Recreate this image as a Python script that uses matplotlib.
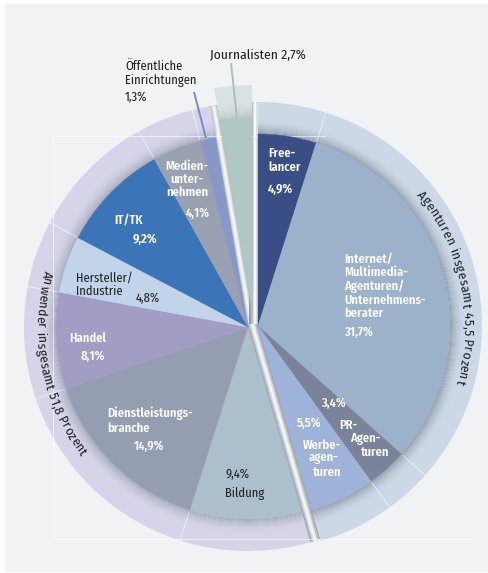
import numpy as np
import matplotlib
matplotlib.use("Agg")
import matplotlib.pyplot as plt
from matplotlib.patches import Wedge, Rectangle
from matplotlib.font_manager import FontProperties, fontManager
from matplotlib.colors import to_rgb

# ---------------- data ----------------
categories = ["Freelancer", "Internet/Multimedia-Agenturen/Unternehmensberater",
              "PR-Agenturen", "Werbeagenturen", "Bildung", "Dienstleistungsbranche",
              "Handel", "Hersteller/Industrie", "IT/TK", "Medienunternehmen",
              "Öffentliche Einrichtungen", "Journalisten"]
shares = [4.9, 31.7, 3.4, 5.5, 9.4, 14.9, 8.1, 4.8, 9.2, 4.1, 1.3, 2.7]
share_labels = ["4,9%", "31,7%", "3,4%", "5,5%", "9,4%", "14,9%", "8,1%",
                "4,8%", "9,2%", "4,1%", "1,3%", "2,7%"]
groups = [0, 0, 0, 0, 1, 1, 1, 1, 1, 1, 1, 2]
group_titles = ["Agenturen insgesamt 45,5 Prozent", "Anwender insgesamt 51,8 Prozent", ""]

# ---------------- style ----------------
slice_colors = ["#3a4e86", "#9cb2ca", "#7a8399", "#9fb2d8", "#abbfcd", "#959eb1",
                "#a29dc4", "#c2d4e9", "#3c74b8", "#98a0b2", "#8896c8", "#b0c8c4"]
ring_colors = ["#ccd8e6", "#d5d4e8", "#d8e2e2"]
shade_strength = [0.6, 0.45, 0.25]
BG = "#f1f2f4"
DARK = "#1e1e1e"

available = {f.name for f in fontManager.ttflist}
candidates = ["Fira Sans Condensed", "PT Sans Narrow", "Roboto Condensed",
              "Archivo Narrow", "Asap Condensed", "Liberation Sans Narrow"]
main_font = next((c for c in candidates if c in available), "DejaVu Sans")
FAMILY = [main_font, "DejaVu Sans"]
plt.rcParams["font.family"] = FAMILY

fig = plt.figure(figsize=(4.89, 5.73), dpi=100)
fig.patch.set_facecolor("white")
ax = fig.add_axes([0, 0, 1, 1])
ax.set_xlim(0, 489)
ax.set_ylim(573, 0)
ax.axis("off")
ax.add_patch(Rectangle((5, 4), 484, 568, fc=BG, ec="none", zorder=0))

R_PIE, R_RING = 192, 224
centers = [(258, 326), (248, 327), (252, 309)]

total = sum(shares)
cum = np.concatenate([[0.0], np.cumsum(shares)])
ang_hi = 90 - cum[:-1] / total * 360   # visual angle (ccw, y up)
ang_lo = 90 - cum[1:] / total * 360


def wedge(center, r, a_lo, a_hi, width=None, **kw):
    # y axis is inverted -> mirror angles
    return Wedge(center, r, -a_hi, -a_lo, width=width, **kw)


def mix(c1, c2, f):
    a, b = np.array(to_rgb(c1)), np.array(to_rgb(c2))
    return tuple(a * (1 - f) + b * f)


def pt_on(center, r, a_deg):
    a = np.deg2rad(a_deg)
    return center[0] + r * np.cos(a), center[1] - r * np.sin(a)


g_lo = [min(ang_lo[i] for i in range(len(shares)) if groups[i] == g) for g in range(3)]
g_hi = [max(ang_hi[i] for i in range(len(shares)) if groups[i] == g) for g in range(3)]

# ---------------- rings ----------------
for g in range(3):
    c = centers[g]
    ax.add_patch(wedge(c, R_RING, g_lo[g], g_hi[g], width=R_RING - R_PIE,
                       fc=ring_colors[g], ec="none", zorder=2))
    n = 14
    for j in range(n):
        f = (1 - j / n) ** 1.7 * shade_strength[g]
        col = mix(ring_colors[g], "#6f7888", f)
        ax.add_patch(wedge(c, R_PIE + j + 1.0, g_lo[g], g_hi[g], width=1.15,
                           fc=col, ec="none", zorder=2.1))

# faint white separators in the rings
for i in range(len(shares) - 1):
    if groups[i] == groups[i + 1]:
        c = centers[groups[i]]
        p1 = pt_on(c, R_PIE + 2, ang_lo[i])
        p2 = pt_on(c, R_RING, ang_lo[i])
        ax.plot([p1[0], p2[0]], [p1[1], p2[1]], color="white", lw=0.5,
                alpha=0.8, zorder=2.2)

# faint frame lines
ax.plot([325, 53, 53, 470], [136, 136, 539, 539], color="white", lw=0.6,
        alpha=0.7, zorder=2.5)

# ---------------- gaps between groups (bevel look) ----------------
for i in range(len(shares)):
    j = (i + 1) % len(shares)
    if groups[i] != groups[j]:
        a = ang_lo[i]
        c1, c2 = centers[groups[i]], centers[groups[j]]
        mid = np.array([(c1[0] + c2[0]) / 2, (c1[1] + c2[1]) / 2])
        d = np.array([np.cos(np.deg2rad(a)), -np.sin(np.deg2rad(a))])
        reach = min(R_RING + np.dot(np.array(c) - mid, d) for c in (c1, c2))
        p1 = pt_on(mid, -6, a)
        p2 = pt_on(mid, reach, a)
        for lw_px, col in [(12, "#9a9ea7"), (8, "#b9bdc4"), (5, "#dcdfe3"), (2, "#f6f7f8")]:
            ax.plot([p1[0], p2[0]], [p1[1], p2[1]], color=col, lw=lw_px * 0.72,
                    solid_capstyle="butt", zorder=1.5)

# ---------------- pie slices ----------------
for i, v in enumerate(shares):
    c = centers[groups[i]]
    ax.add_patch(wedge(c, R_PIE, ang_lo[i], ang_hi[i], fc=slice_colors[i],
                       ec=slice_colors[i], lw=0.3, zorder=3))

# ---------------- leader lines ----------------
ax.plot([194, 206], [92, 138], color="#7b89c6", lw=1.4, zorder=4,
        solid_capstyle="butt")
ax.plot([231, 237], [63, 118], color="#a7c0bd", lw=1.4, zorder=4,
        solid_capstyle="butt")

# ---------------- labels ----------------
FS = 9
white_kw = dict(color="white", fontsize=FS, fontweight="semibold", zorder=5)
dark_kw = dict(color=DARK, fontsize=FS, fontweight="normal", zorder=5)

name_items = [
    [("Free-\nlancer", 268, 160.5, "left")],
    [("Internet/\nMultimedia-\nAgenturen/\nUnternehmens-\nberater", 344, 286.5, "left")],
    [("PR-", 348, 425, "center"), ("Agen-", 365, 439, "center"), ("turen", 375, 452, "center")],
    [("Werbe-", 322, 445, "center"), ("agen-", 324, 458, "center"), ("turen", 327, 472, "center")],
    [("Bildung", 225, 493, "left")],
    [("Dienstleistungs-\nbranche", 107, 420.5, "left")],
    [("Handel", 88, 338, "center")],
    [("Hersteller/\nIndustrie", 76, 284.5, "left")],
    [("IT/TK", 129, 220, "center")],
    [("Medien-\nunter-\nnehmen", 187, 179.5, "center")],
    [("Öffentliche\nEinrichtungen", 125, 73.5, "left")],
    [],
]
pct_items = [(268, 189, "left"), (344, 332, "left"), (333, 403, "center"),
             (309, 423, "center"), (225, 474, "left"), (149, 446, "center"),
             (93, 356, "center"), (148, 298, "center"), (145, 239, "center"),
             (198, 213, "center"), (125, 97, "left"), None]
dark_slices = {4, 7, 10, 11}
spacing = {5: 1.25}

for i in range(len(shares)):
    kw = dark_kw if i in dark_slices else white_kw
    for txt, x, y, ha in name_items[i]:
        ax.text(x, y, txt, ha=ha, va="center", multialignment=ha,
                linespacing=spacing.get(i, 1.1), **kw)
    if pct_items[i] is not None:
        x, y, ha = pct_items[i]
        ax.text(x, y, share_labels[i], ha=ha, va="center", **kw)

# Journalisten label (name + share on one line)
ax.text(210, 55, f"{categories[11]} {share_labels[11]}", ha="left", va="center",
        color=DARK, fontsize=9.8, zorder=5)

# ---------------- curved group titles ----------------
renderer = fig.canvas.get_renderer()
fp = FontProperties(family=FAMILY, size=9.6)
TRACK = 0.45


def width_of(s):
    w1 = renderer.get_text_width_height_descent(s + "H", fp, ismath=False)[0]
    w0 = renderer.get_text_width_height_descent("H", fp, ismath=False)[0]
    return w1 - w0


def arc_text(text, center, r_mid, mid_deg, direction):
    cap = 7.0
    r = r_mid - cap / 2 if direction < 0 else r_mid + cap / 2
    edges = [width_of(text[:k]) + k * TRACK if k > 0 else 0.0 for k in range(len(text) + 1)]
    tot = edges[-1]
    start = np.deg2rad(mid_deg) - direction * (tot / r) / 2
    for k, ch in enumerate(text):
        if ch == " ":
            continue
        s = (edges[k] + edges[k + 1]) / 2
        phi = start + direction * s / r
        x = center[0] + r * np.cos(phi)
        y = center[1] - r * np.sin(phi)
        rot = np.rad2deg(phi) - 90 if direction < 0 else np.rad2deg(phi) + 90
        ax.text(x, y, ch, rotation=rot, rotation_mode="anchor", ha="center",
                va="baseline", fontproperties=fp, color=DARK, zorder=5)


arc_text(group_titles[0], centers[0], 209, 11.8, -1)
arc_text(group_titles[1], centers[1], 208, 191.1, +1)

fig.savefig("out.png", dpi=100, facecolor="white")
